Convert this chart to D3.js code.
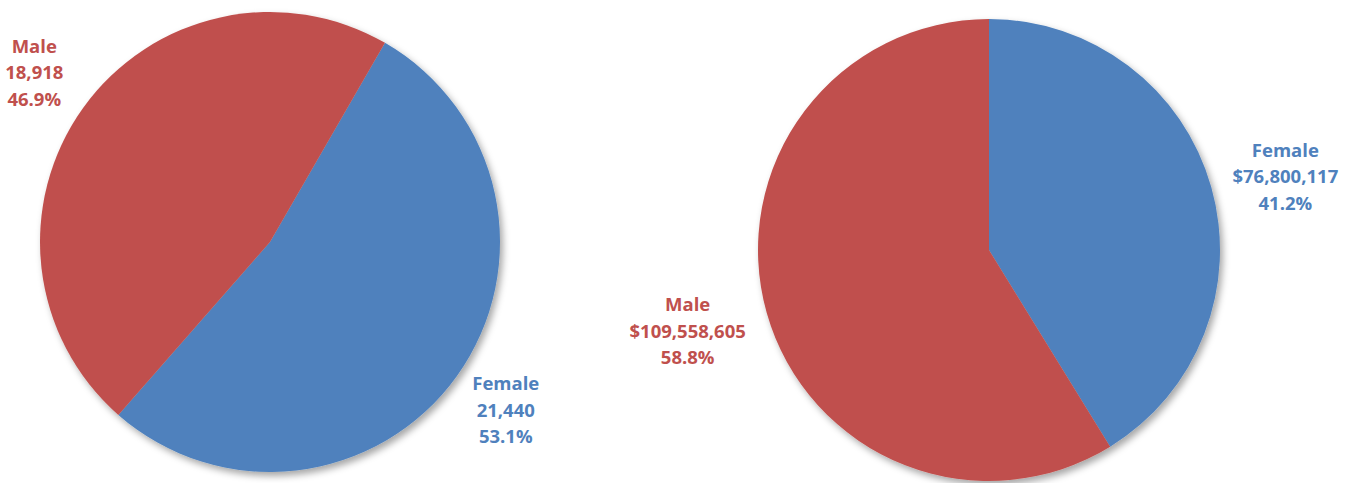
<!DOCTYPE html>
<html>
<head>
<meta charset="utf-8">
<script src="https://cdn.jsdelivr.net/npm/d3@7"></script>
<style>
  body { margin: 0; background: #fff; }
  text { font-family: "Open Sans", "Liberation Sans", sans-serif; font-weight: bold; }
</style>
</head>
<body>
<script>
// Chart data
var genders = ["Female", "Male"];
var headcount = [21440, 18918];
var payroll = [76800117, 109558605];

var colors = { Female: "#4F81BD", Male: "#C0504D" };

var svgWidth = 1359;
var svgHeight = 483;

var svg = d3.select("body")
            .append("svg")
            .attr("width", svgWidth)
            .attr("height", svgHeight);

// soft shadow like the office charts
var filter = svg.append("defs").append("filter")
                .attr("id", "shadow")
                .attr("x", "-10%").attr("y", "-10%")
                .attr("width", "130%").attr("height", "130%");
filter.append("feDropShadow")
      .attr("dx", 3).attr("dy", 4)
      .attr("stdDeviation", 3.5)
      .attr("flood-color", "#000")
      .attr("flood-opacity", 0.35);

var fmtCount = d3.format(",");
var fmtMoney = d3.format("$,");
var fmtPct = d3.format(".1%");

function drawPie(cx, cy, radius, startDeg, values, fmt, labelRadius, nudge) {
    var total = d3.sum(values);
    var rows = genders.map((g, i) => ({ gender: g, value: values[i] }));

    var pie = d3.pie()
                .value(d => d.value)
                .sort(null)
                .startAngle(startDeg * Math.PI / 180)
                .endAngle(startDeg * Math.PI / 180 + 2 * Math.PI);

    var arc = d3.arc().innerRadius(0).outerRadius(radius);
    var labelArc = d3.arc().innerRadius(labelRadius).outerRadius(labelRadius);

    var g = svg.append("g")
               .attr("transform", `translate(${cx}, ${cy})`);

    g.append("g")
     .attr("filter", "url(#shadow)")
     .selectAll("path")
     .data(pie(rows))
     .enter()
     .append("path")
     .attr("d", arc)
     .attr("fill", d => colors[d.data.gender]);

    var labels = g.selectAll("text.lbl")
                  .data(pie(rows))
                  .enter()
                  .append("text")
                  .attr("class", "lbl")
                  .attr("text-anchor", "middle")
                  .attr("font-size", "18.5px")
                  .attr("fill", d => colors[d.data.gender])
                  .attr("transform", d => {
                      var c = labelArc.centroid(d);
                      var n = nudge[d.data.gender] || [0, 0];
                      return `translate(${c[0] + n[0]}, ${c[1] + n[1]})`;
                  });

    labels.each(function(d) {
        var t = d3.select(this);
        var lines = [d.data.gender, fmt(d.data.value), fmtPct(d.data.value / total)];
        lines.forEach((s, i) => {
            t.append("tspan")
             .attr("x", 0)
             .attr("y", (i - 1) * 26.5 + 6)
             .text(s);
        });
    });
}

drawPie(270, 242, 230, 30, headcount, fmtCount, 290, {});
drawPie(989, 250, 231, 0, payroll, fmtMoney, 308, { Female: [0, 11], Male: [-5, -2] });
</script>
</body>
</html>
